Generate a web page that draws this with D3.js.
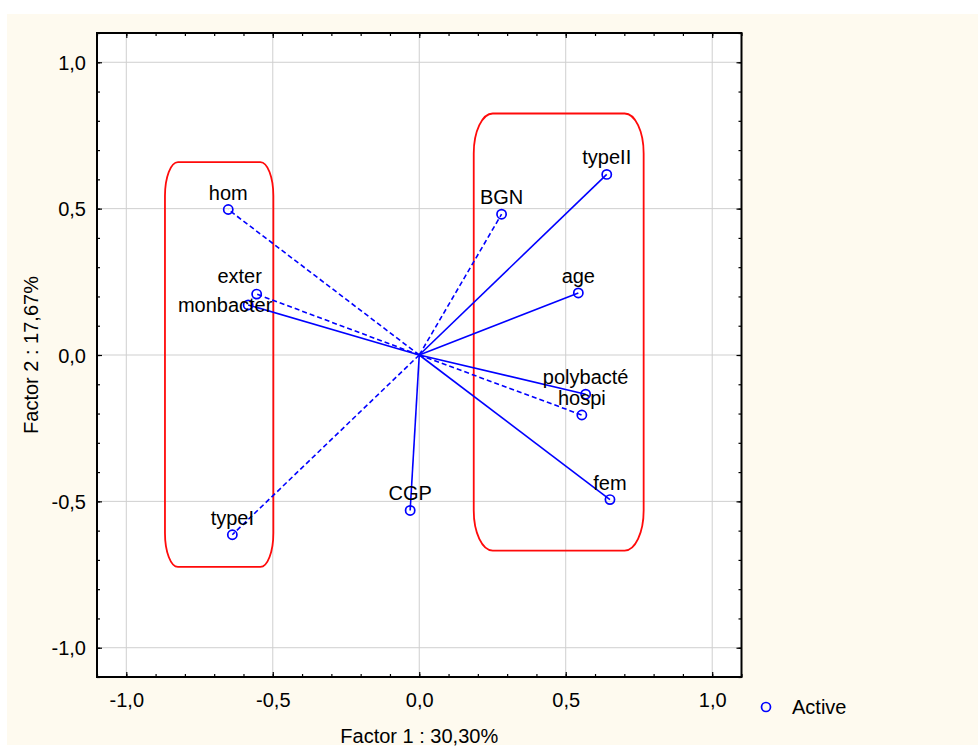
<!DOCTYPE html>
<html>
<head>
<meta charset="utf-8">
<script src="https://cdnjs.cloudflare.com/ajax/libs/d3/7.8.5/d3.min.js"></script>
<style>
  html, body { margin: 0; padding: 0; background: #ffffff; }
  svg { display: block; font-family: 'Liberation Sans', Arial, sans-serif; }
</style>
</head>
<body>
<svg id="chart" width="978" height="747"></svg>
<script>
  'use strict'

  // variables (factor coordinates)
  var variableNames = [ 'hom', 'exter', 'monbacter', 'BGN', 'typeII', 'age', 'polybacté', 'hospi', 'fem', 'typeI', 'CGP' ]
  var factor1Values = [ -0.652, -0.555, -0.584, 0.281, 0.640, 0.543, 0.568, 0.555, 0.651, -0.638, -0.031 ]
  var factor2Values = [ 0.497, 0.208, 0.171, 0.481, 0.617, 0.212, -0.134, -0.205, -0.494, -0.614, -0.531 ]
  var dashedFlags = [ true, true, false, true, false, false, false, true, false, true, false ]

  // the two red groups drawn round the variables (factor units)
  var groupX0 = [ -0.868, 0.186 ]
  var groupX1 = [ -0.498, 0.766 ]
  var groupY0 = [ -0.724, -0.668 ]
  var groupY1 = [ 0.659, 0.825 ]

  var majorTicks = [ -1.0, -0.5, 0.0, 0.5, 1.0 ]
  var minorTicks = d3.range(-11, 12).map(function (i) { return i / 10 })

  var xTitle = 'Factor 1 : 30,30%'
  var yTitle = 'Factor 2 : 17,67%'
  var legendLabel = 'Active'

  var points = variableNames.map(function (name, i) {
    return { name: name, x: factor1Values[ i ], y: factor2Values[ i ], dashed: dashedFlags[ i ] }
  })
  var groups = groupX0.map(function (d, i) {
    return { x0: groupX0[ i ], x1: groupX1[ i ], y0: groupY0[ i ], y1: groupY1[ i ] }
  })

  // label nudges where the original moved a label off its point
  var labelNudge = {
    exter: { dx: -17, dy: -11 },
    monbacter: { dx: -23, dy: 7 }
  }

  var blue = '#0000ff'
  var fontSize = 20
  var plot = { left: 97, right: 741.5, top: 33, bottom: 677 }

  var svg = d3.select('#chart')

  // cream panel
  svg.append('rect')
    .attr('x', 7)
    .attr('y', 14)
    .attr('width', 971)
    .attr('height', 731)
    .attr('fill', '#fefaef')

  svg.append('rect')
    .attr('x', plot.left)
    .attr('y', plot.top)
    .attr('width', plot.right - plot.left)
    .attr('height', plot.bottom - plot.top)
    .attr('fill', '#ffffff')

  var xScale = d3.scaleLinear().domain([ -1.1, 1.1 ]).range([ plot.left, plot.right ])
  var yScale = d3.scaleLinear().domain([ -1.1, 1.1 ]).range([ plot.bottom, plot.top ])

  var locale = d3.formatLocale({ decimal: ',', thousands: '.', grouping: [ 3 ], currency: [ '', '' ], minus: '-' })
  var fmt = locale.format('.1f')

  // grid
  var grid = svg.append('g').attr('class', 'grid')
  grid.selectAll('.gx')
    .data(majorTicks)
    .enter()
    .append('line')
    .attr('x1', function (d) { return xScale(d) })
    .attr('x2', function (d) { return xScale(d) })
    .attr('y1', plot.top)
    .attr('y2', plot.bottom)
    .attr('stroke', '#cfcfcf')
    .attr('stroke-width', 1)
  grid.selectAll('.gy')
    .data(majorTicks)
    .enter()
    .append('line')
    .attr('y1', function (d) { return yScale(d) })
    .attr('y2', function (d) { return yScale(d) })
    .attr('x1', plot.left)
    .attr('x2', plot.right)
    .attr('stroke', '#cfcfcf')
    .attr('stroke-width', 1)

  // axes: minor and major ticks, inward, on all four sides
  function add_axis (axisFn, scale, transform, size, values, withLabels) {
    var axis = axisFn(scale)
      .tickValues(values)
      .tickSize(-size)
      .tickFormat(withLabels ? fmt : '')
    var g = svg.append('g')
      .attr('transform', transform)
      .call(axis)
    g.select('.domain').remove()
    g.selectAll('.tick line').attr('stroke', '#000').attr('stroke-width', 1.2)
    return g
  }

  add_axis(d3.axisBottom, xScale, 'translate(0,' + plot.bottom + ')', 3, minorTicks, false)
  add_axis(d3.axisTop, xScale, 'translate(0,' + plot.top + ')', 3, minorTicks, false)
  add_axis(d3.axisLeft, yScale, 'translate(' + plot.left + ',0)', 3, minorTicks, false)
  add_axis(d3.axisRight, yScale, 'translate(' + plot.right + ',0)', 3, minorTicks, false)

  var xAxisG = add_axis(d3.axisBottom, xScale, 'translate(0,' + plot.bottom + ')', 5, majorTicks, true)
  add_axis(d3.axisTop, xScale, 'translate(0,' + plot.top + ')', 5, majorTicks, false)
  var yAxisG = add_axis(d3.axisLeft, yScale, 'translate(' + plot.left + ',0)', 5, majorTicks, true)
  add_axis(d3.axisRight, yScale, 'translate(' + plot.right + ',0)', 5, majorTicks, false)

  xAxisG.selectAll('.tick text')
    .attr('y', 30)
    .attr('dy', null)
    .attr('font-size', fontSize)
    .attr('font-family', 'Liberation Sans, Arial, sans-serif')
    .attr('fill', '#000')
  yAxisG.selectAll('.tick text')
    .attr('x', -11)
    .attr('dy', 7)
    .attr('font-size', fontSize)
    .attr('font-family', 'Liberation Sans, Arial, sans-serif')
    .attr('fill', '#000')

  // frame
  svg.append('rect')
    .attr('x', plot.left)
    .attr('y', plot.top)
    .attr('width', plot.right - plot.left)
    .attr('height', plot.bottom - plot.top)
    .attr('fill', 'none')
    .attr('stroke', '#000')
    .attr('stroke-width', 2)

  // red groups
  svg.selectAll('.group-box')
    .data(groups)
    .enter()
    .append('rect')
    .attr('class', 'group-box')
    .attr('x', function (d) { return xScale(d.x0) })
    .attr('y', function (d) { return yScale(d.y1) })
    .attr('width', function (d) { return xScale(d.x1) - xScale(d.x0) })
    .attr('height', function (d) { return yScale(d.y0) - yScale(d.y1) })
    .attr('rx', function (d, i) { return i === 0 ? 13 : 19 })
    .attr('ry', function (d, i) { return i === 0 ? 34 : 40 })
    .attr('fill', 'none')
    .attr('stroke', '#ff0a0a')
    .attr('stroke-width', 1.8)

  // vectors from the origin
  svg.selectAll('.vector')
    .data(points)
    .enter()
    .append('line')
    .attr('class', 'vector')
    .attr('x1', xScale(0))
    .attr('y1', yScale(0))
    .attr('x2', function (d) { return xScale(d.x) })
    .attr('y2', function (d) { return yScale(d.y) })
    .attr('stroke', blue)
    .attr('stroke-width', 1.6)
    .attr('stroke-dasharray', function (d) { return d.dashed ? '5,3' : null })

  svg.selectAll('.point')
    .data(points)
    .enter()
    .append('circle')
    .attr('class', 'point')
    .attr('cx', function (d) { return xScale(d.x) })
    .attr('cy', function (d) { return yScale(d.y) })
    .attr('r', 4.6)
    .attr('fill', 'none')
    .attr('stroke', blue)
    .attr('stroke-width', 1.7)

  svg.selectAll('.point-label')
    .data(points)
    .enter()
    .append('text')
    .attr('class', 'point-label')
    .attr('x', function (d) {
      var n = labelNudge[ d.name ]
      return xScale(d.x) + (n ? n.dx : 0)
    })
    .attr('y', function (d) {
      var n = labelNudge[ d.name ]
      return yScale(d.y) + (n ? n.dy : -10)
    })
    .attr('text-anchor', 'middle')
    .attr('font-size', fontSize)
    .attr('fill', '#000')
    .text(function (d) { return d.name })

  // axis titles
  svg.append('text')
    .attr('x', (plot.left + plot.right) / 2)
    .attr('y', 743)
    .attr('text-anchor', 'middle')
    .attr('font-size', fontSize)
    .attr('fill', '#000')
    .text(xTitle)

  svg.append('text')
    .attr('transform', 'translate(38,' + (plot.top + plot.bottom) / 2 + ') rotate(-90)')
    .attr('text-anchor', 'middle')
    .attr('font-size', fontSize)
    .attr('fill', '#000')
    .text(yTitle)

  // legend
  svg.append('circle')
    .attr('cx', 766)
    .attr('cy', 707)
    .attr('r', 4.5)
    .attr('fill', 'none')
    .attr('stroke', blue)
    .attr('stroke-width', 1.7)
  svg.append('text')
    .attr('x', 792)
    .attr('y', 714)
    .attr('font-size', fontSize)
    .attr('fill', '#000')
    .text(legendLabel)
</script>
</body>
</html>
